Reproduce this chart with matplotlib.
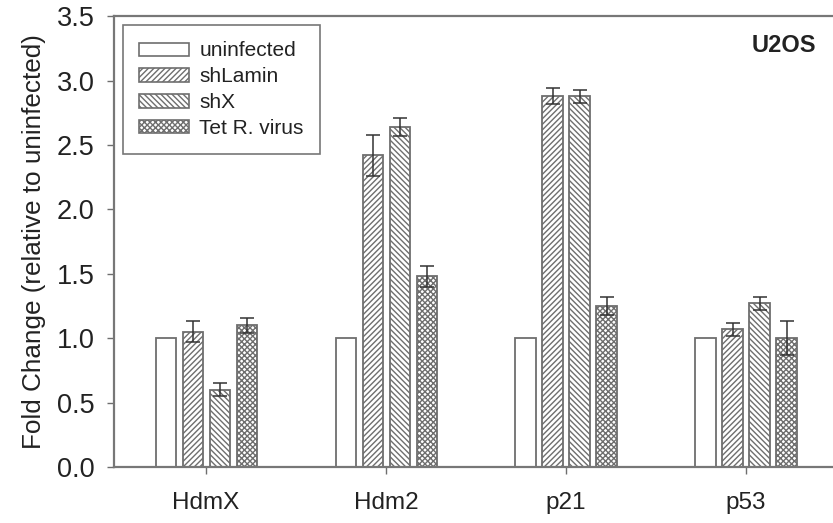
import matplotlib
matplotlib.use("Agg")
import matplotlib.pyplot as plt
import numpy as np
from matplotlib.patches import Patch

plt.rcParams['font.family'] = ['Liberation Sans', 'DejaVu Sans']
plt.rcParams['hatch.linewidth'] = 1.0

genes = ["HdmX", "Hdm2", "p21", "p53"]
series = ["uninfected", "shLamin", "shX", "Tet R. virus"]

uninfected = [1.0, 1.0, 1.0, 1.0]
shlamin = [1.05, 2.42, 2.88, 1.07]
shx = [0.60, 2.64, 2.88, 1.27]
tet_r_virus = [1.10, 1.48, 1.25, 1.00]

err_uninfected = [0, 0, 0, 0]
err_shlamin = [0.08, 0.16, 0.06, 0.05]
err_shx = [0.05, 0.07, 0.05, 0.05]
err_tet = [0.06, 0.08, 0.07, 0.13]

yticks = [0.0, 0.5, 1.0, 1.5, 2.0, 2.5, 3.0, 3.5]

values = [uninfected, shlamin, shx, tet_r_virus]
errors = [err_uninfected, err_shlamin, err_shx, err_tet]
hatches = [None, "//////", "\\\\\\\\\\\\", "xxxxxx"]

edge = "#6e6e6e"
text_color = "#222222"
fig = plt.figure(figsize=(8.33, 5.23), dpi=100)
ax = fig.add_axes([0.137, 0.107, 0.863, 0.862])

x = np.arange(len(genes))
step = 0.15
width = 0.112
offsets = (np.arange(4) - 1.5) * step

for vals, errs, off, h in zip(values, errors, offsets, hatches):
    ax.bar(x + off, vals, width, color="white", edgecolor=edge,
           linewidth=1.3, hatch=h, zorder=2)
    has_err = np.array(errs) > 0
    ax.errorbar((x + off)[has_err], np.array(vals)[has_err],
                yerr=np.array(errs)[has_err], fmt="none", ecolor="#333333",
                elinewidth=1.1, capsize=4.8, capthick=1.1, zorder=3)

ax.set_xlim(-0.511, 3.483)
ax.set_ylim(0, 3.5)
ax.set_yticks(yticks)
ax.set_yticklabels([f"{t:.1f}" for t in yticks], fontsize=19.5, color=text_color)
ax.set_xticks(x)
ax.set_xticklabels(genes, fontsize=17.5, color=text_color)
ax.tick_params(axis="both", direction="out", length=5, width=1, color=edge)
ax.tick_params(axis="y", pad=9)
ax.tick_params(axis="x", pad=13)
ax.set_ylabel("Fold Change (relative to uninfected)", fontsize=18.8,
              color=text_color, labelpad=8)

for side in ("left", "bottom", "top"):
    ax.spines[side].set_color("#777777")
    ax.spines[side].set_linewidth(1.6)
ax.spines["right"].set_visible(False)

handles = [Patch(facecolor="white", edgecolor=edge, hatch=h, linewidth=1.2) for h in hatches]
leg = ax.legend(handles, series, loc="upper left", bbox_to_anchor=(0.012, 0.98),
                fontsize=15, frameon=True, fancybox=False, edgecolor="#555555",
                handlelength=2.4, handleheight=0.6, handletextpad=0.5,
                labelspacing=0.33, borderpad=0.78, borderaxespad=0.0)
leg.get_frame().set_linewidth(1.2)
for t in leg.get_texts():
    t.set_color(text_color)

ax.text(0.976, 0.935, "U2OS", transform=ax.transAxes, ha="right", va="center",
        fontsize=17, fontweight="bold", color=text_color)

fig.savefig("out.png", dpi=100)
